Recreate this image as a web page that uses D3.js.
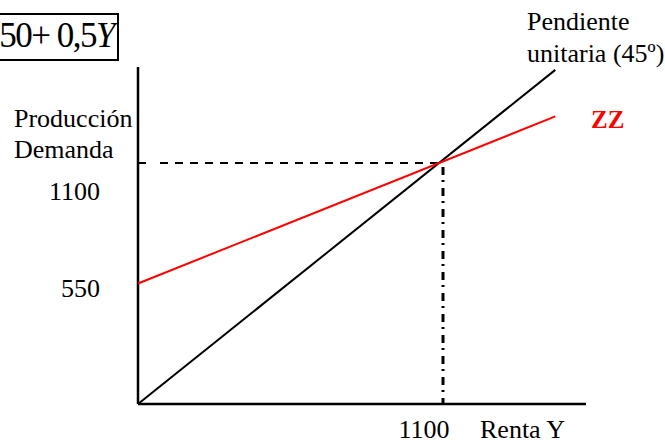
<!DOCTYPE html>
<html>
<head>
<meta charset="utf-8">
<script src="https://cdn.jsdelivr.net/npm/d3@7"></script>
<style>
  body { margin: 0; background: #fff; }
  svg { display: block; }
  text { font-family: "Liberation Serif", "Times New Roman", serif; fill: #000; }
</style>
</head>
<body>
<div id="chart"></div>
<script>
// renta Y (eje horizontal) y valores del modelo ZZ = 550 + 0,5Y
var rentaY = [0, 1525];
var autonomo = 550;
var propension = 0.5;
var equilibrio = 1100;
var yTicks = [550, 1100];
var xTicks = [1100];

var width = 665, height = 443;

var svg = d3.select("#chart").append("svg").attr("width", width).attr("height", height);

var x = d3.scaleLinear().domain([0, 1100]).range([138, 439]);
var y = d3.scaleLinear().domain([0, 1100]).range([404, 163]);

var line = d3.line()
    .x(function (d) { return x(d[0]); })
    .y(function (d) { return y(d[1]); });

// ejes
svg.append("line")
    .attr("x1", x(0)).attr("x2", x(0))
    .attr("y1", y(0)).attr("y2", 67)
    .attr("stroke", "#000").attr("stroke-width", 2.5);
svg.append("line")
    .attr("x1", x(0)).attr("x2", 586)
    .attr("y1", y(0)).attr("y2", y(0))
    .attr("stroke", "#000").attr("stroke-width", 2.5);

// marca en el eje vertical
svg.append("line")
    .attr("x1", x(0)).attr("x2", x(0) + 8)
    .attr("y1", y(equilibrio)).attr("y2", y(equilibrio))
    .attr("stroke", "#000").attr("stroke-width", 2);

// guias del equilibrio
svg.append("line")
    .attr("x1", x(0) + 22).attr("x2", x(equilibrio))
    .attr("y1", y(equilibrio)).attr("y2", y(equilibrio))
    .attr("stroke", "#000").attr("stroke-width", 2)
    .attr("stroke-dasharray", "8,7");
svg.append("line")
    .attr("x1", x(equilibrio) + 4).attr("x2", x(equilibrio) + 4)
    .attr("y1", y(equilibrio) + 4).attr("y2", y(0))
    .attr("stroke", "#000").attr("stroke-width", 3)
    .attr("stroke-dasharray", "8,5,2,6");

// recta de 45 grados
svg.append("path")
    .datum(rentaY.map(function (v) { return [v, v]; }))
    .attr("d", line)
    .attr("fill", "none").attr("stroke", "#000").attr("stroke-width", 2);

// ZZ
svg.append("path")
    .datum(rentaY.map(function (v) { return [v, autonomo + propension * v]; }))
    .attr("d", line)
    .attr("fill", "none").attr("stroke", "#ff0000").attr("stroke-width", 2);

// etiquetas del eje vertical
svg.selectAll(".ytick")
    .data(yTicks)
    .enter().append("text")
    .attr("class", "ytick")
    .attr("x", 100)
    .attr("y", function (d) { return d == 1100 ? y(d) + 37 : y(d) + 13; })
    .attr("text-anchor", "end")
    .attr("font-size", 26)
    .text(function (d) { return d; });

svg.selectAll(".xtick")
    .data(xTicks)
    .enter().append("text")
    .attr("class", "xtick")
    .attr("x", function (d) { return x(d) - 15; })
    .attr("y", 438)
    .attr("text-anchor", "middle")
    .attr("font-size", 26)
    .text(function (d) { return d; });

svg.append("text").attr("x", 480).attr("y", 438).attr("font-size", 26).text("Renta Y");

svg.append("text").attr("x", 14).attr("y", 127).attr("font-size", 26).text("Producción");
svg.append("text").attr("x", 14).attr("y", 158).attr("font-size", 26).text("Demanda");

svg.append("text").attr("x", 527).attr("y", 30).attr("font-size", 26).text("Pendiente");
svg.append("text").attr("x", 527).attr("y", 62).attr("font-size", 26).text("unitaria (45º)");

svg.append("text").attr("x", 591).attr("y", 128)
    .attr("font-size", 25).attr("font-weight", "bold")
    .style("fill", "#ff0000").text("ZZ");

// recuadro con la ecuacion
svg.append("rect")
    .attr("x", -2).attr("y", 14).attr("width", 120).attr("height", 46)
    .attr("fill", "none").attr("stroke", "#000").attr("stroke-width", 2);
var eq = svg.append("text").attr("x", 114).attr("y", 47).attr("font-size", 35)
    .attr("text-anchor", "end").attr("letter-spacing", -1.5);
eq.append("tspan").text("ZZ = 550+ 0,5");
eq.append("tspan").attr("font-style", "italic").text("Y");
</script>
</body>
</html>
